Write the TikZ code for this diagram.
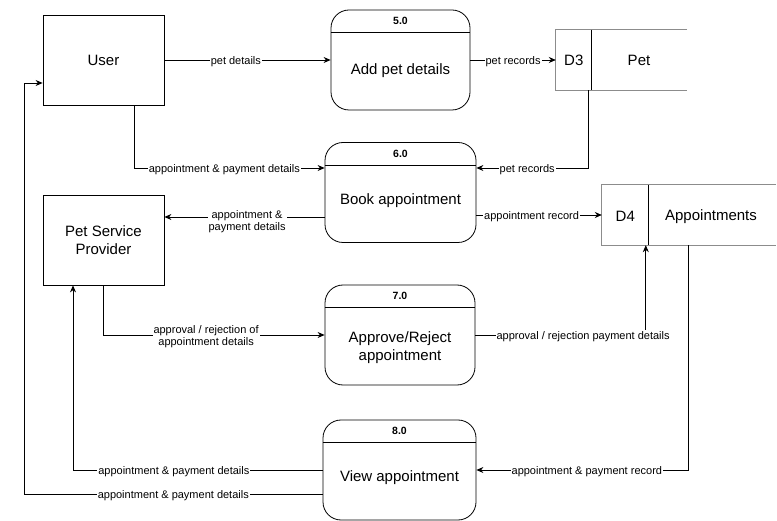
\documentclass[tikz,border=0pt]{standalone}
\usepackage{fontspec}
\setmainfont{Liberation Sans}
\usetikzlibrary{arrows.meta}
\begin{document}
\begin{tikzpicture}[x=1pt,y=-1pt,
  ent/.style={draw,line width=0.8pt,minimum width=121pt,minimum height=90pt,inner sep=0pt,font=\fontsize{15}{18}\selectfont,align=center},
  proc/.style={draw,line width=0.8pt,rounded corners=18pt,inner sep=0pt},
  hdr/.style={font=\fontsize{10.5}{12}\selectfont\bfseries},
  body/.style={font=\fontsize{15}{18}\selectfont,align=center},
  store/.style={draw=black!45,line width=0.8pt},
  arr/.style={draw,line width=0.8pt,-{Stealth[length=7pt,width=6pt]}},
  lbl/.style={fill=white,inner sep=1pt,yshift=-1.5pt,font=\fontsize{11}{12.5}\selectfont,align=center}]
\useasboundingbox (0,0) rectangle (777,521);
% external entities
\node[ent] (user) at (103.5,60) {User};
\node[ent] (psp) at (103.5,240) {Pet Service\\Provider};
% processes
\node[proc,minimum width=139pt,minimum height=100pt] (p5) at (400.5,60) {};
\node[proc,minimum width=151pt,minimum height=100pt] (p6) at (400.5,192.5) {};
\node[proc,minimum width=150pt,minimum height=100pt] (p7) at (400,335) {};
\node[proc,minimum width=153pt,minimum height=100pt] (p8) at (399.5,470) {};
\foreach \p/\n/\t/\o in {p5/5.0/Add pet details/-10.5,p6/6.0/Book appointment/-8.5,p7/7.0/{Approve/Reject\\appointment}/-13,p8/8.0/View appointment/-7.5}{
  \draw[line width=0.8pt] ([yshift=-23pt]\p.north west) -- ([yshift=-23pt]\p.north east);
  \node[hdr] at ([yshift=-11.5pt]\p.north) {\n};
  \node[body] at ([yshift=\o pt]\p.center) {\t};
}
% data stores
\node[minimum width=131pt,minimum height=60pt,inner sep=0pt] (d3) at (621.5,60) {};
\draw[store] (d3.north east) -- (d3.north west) -- (d3.south west) -- (d3.south east);
\draw[line width=0.8pt] ([xshift=36pt]d3.north west) -- ([xshift=36pt]d3.south west);
\node[body] at ([xshift=18pt]d3.west) {D3};
\node[body] at (639,60) {Pet};
\node[minimum width=174pt,minimum height=60pt,inner sep=0pt] (d4) at (689,215) {};
\draw[store] (d4.north east) -- (d4.north west) -- (d4.south west) -- (d4.south east);
\draw[line width=0.8pt] ([xshift=47pt]d4.north west) -- ([xshift=47pt]d4.south west);
\node[body] at ([xshift=23.5pt,yshift=-1.5pt]d4.west) {D4};
\node[body] at (711,216.5) {Appointments};
% flows
\draw[arr] (user.east) -- node[lbl,pos=0.43] {pet details} (p5.west);
\draw[arr] (p5.east) -- node[lbl,pos=0.5] {pet records} (d3.west);
\draw[arr] ([xshift=33pt]d3.south west) |- node[lbl,pos=0.774] {pet records} ([yshift=24.5pt]p6.east);
\draw[arr] ([xshift=30.5pt]user.south) |- node[lbl,pos=0.737] {appointment \& payment details} ([yshift=24.5pt]p6.west);
\draw[arr] ([yshift=-24.5pt]p6.west) -- node[lbl,pos=0.484,yshift=-3pt] {appointment \&\\payment details} ([yshift=-24.5pt]p6.west -| psp.east);
\draw[arr] (d4.west -| p6.east) -- node[lbl,pos=0.44] {appointment record} (d4.west);
\draw[arr] (psp.south) |- node[lbl,pos=0.732] {approval / rejection of\\appointment details} (p7.west);
\draw[arr] (p7.east) -| node[lbl,pos=0.316] {approval / rejection payment details} ([xshift=44pt]d4.south west);
\draw[arr] ([xshift=87pt]d4.south west) |- node[lbl,pos=0.74] {appointment \& payment record} (p8.east);
\draw[arr] (p8.west) -| node[lbl,pos=0.298] {appointment \& payment details} ([xshift=-30.5pt]psp.south);
\coordinate (lft) at (24,494);
\draw[arr] ([yshift=-24pt]p8.west) -- node[lbl,pos=0.5] {appointment \& payment details} (lft) |- ([yshift=-23pt]user.west);
\end{tikzpicture}
\end{document}
